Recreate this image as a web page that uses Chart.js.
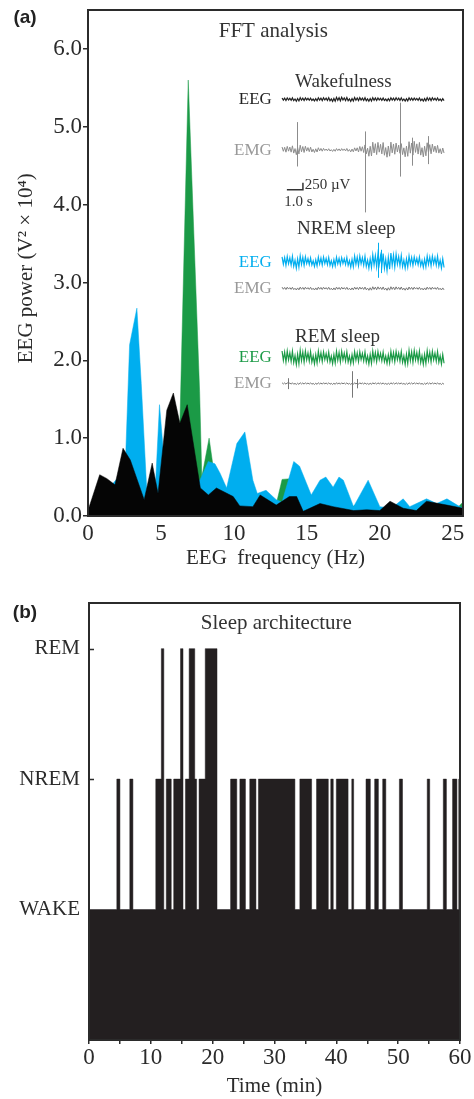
<!DOCTYPE html>
<html>
<head>
<meta charset="utf-8">
<script src="https://cdn.jsdelivr.net/npm/chart.js@4.4.1/dist/chart.umd.min.js"></script>
<style>
  html, body { margin: 0; padding: 0; background: #fff; }
  #wrap { position: relative; width: 474px; height: 1099px; }
  canvas { position: absolute; left: 0; }
  #fft { top: 0; }
  #hyp { top: 590px; }
</style>
</head>
<body>
<div id="wrap">
  <canvas id="fft" width="474" height="590"></canvas>
  <canvas id="hyp" width="474" height="509"></canvas>
</div>
<script>
// ---------- (a) FFT power spectra ----------
const wakeHz  = [0, 0.8, 1.3, 1.85, 2.4, 2.9, 3.85, 4.4, 4.8, 5.4, 5.85, 6.3, 6.8, 7.7, 8.25, 8.8, 9.95, 10.4, 11.3, 11.8, 12.9, 13.8, 14.3, 14.75, 15.9, 16.8, 18.2, 19.1, 20.0, 20.7, 21.6, 22.5, 23.2, 24.6, 25.7];
const wakePow = [0.07, 0.53, 0.48, 0.40, 0.87, 0.72, 0.21, 0.68, 0.29, 1.36, 1.58, 1.19, 1.43, 0.36, 0.27, 0.36, 0.25, 0.13, 0.12, 0.27, 0.14, 0.25, 0.25, 0.06, 0.16, 0.12, 0.07, 0.08, 0.07, 0.19, 0.10, 0.07, 0.19, 0.14, 0.10];

const nremHz  = [0, 2.55, 2.85, 3.35, 3.65, 4.05, 4.6, 4.9, 5.35, 7.67, 8.24, 8.7, 9.05, 9.5, 10.2, 10.75, 11.3, 11.6, 12.2, 12.9, 13.3, 14.1, 14.5, 15.3, 15.9, 16.3, 16.8, 17.2, 17.5, 18.2, 19.2, 20.0, 20.8, 21.6, 22.05, 23.2, 23.9, 24.6, 25.3, 25.7];
const nremPow = [0.05, 0.6, 2.2, 2.67, 1.7, 0.25, 0.3, 1.43, 0.4, 0.46, 0.70, 0.67, 0.55, 0.36, 0.93, 1.08, 0.46, 0.29, 0.33, 0.21, 0.18, 0.70, 0.64, 0.27, 0.46, 0.50, 0.37, 0.50, 0.46, 0.12, 0.46, 0.12, 0.10, 0.22, 0.12, 0.22, 0.16, 0.22, 0.14, 0.10];

const remHz  = [0, 5.2, 6.1, 6.3, 6.87, 7.65, 7.8, 8.3, 8.6, 9.0, 12.9, 13.3, 13.9, 14.1, 18.0, 18.4, 18.7, 25.3, 25.7];
const remPow = [0.05, 0.05, 1.0, 1.2, 5.6, 1.6, 0.5, 1.0, 0.6, 0.3, 0.15, 0.47, 0.48, 0.2, 0.1, 0.15, 0.08, 0.1, 0.18];

const freqTicks  = [0, 5, 10, 15, 20, 25];
const powerTicks = [0, 1, 2, 3, 4, 5, 6];

// inset example traces: envelope amplitude along each trace (power-axis units)
const wakeEegEnv = [0.02, 0.025, 0.02, 0.025, 0.03, 0.025, 0.025, 0.02, 0.025, 0.02, 0.025, 0.02];
const wakeEmgEnv = [0.04, 0.07, 0.04, 0.02, 0.02, 0.03, 0.10, 0.11, 0.09, 0.12, 0.09, 0.05];
const nremEegEnv = [0.07, 0.09, 0.06, 0.07, 0.06, 0.08, 0.09, 0.13, 0.10, 0.07, 0.08, 0.09];
const nremEmgEnv = [0.02, 0.02, 0.02, 0.02, 0.02, 0.02, 0.025, 0.025, 0.025, 0.02, 0.02, 0.02];
const remEegEnv  = [0.09, 0.1, 0.09, 0.08, 0.09, 0.08, 0.09, 0.08, 0.09, 0.1, 0.09, 0.09];
const remEmgEnv  = [0.012, 0.012, 0.012, 0.012, 0.012, 0.012, 0.012, 0.012, 0.012, 0.012, 0.012, 0.012];
// big artefact spikes on the traces: position (Hz), top and bottom (power units)
const wakeSpikeHz  = [14.3, 18.97, 21.4, 22.2, 23.3];
const wakeSpikeTop = [5.06, 4.94, 5.31, 4.86, 4.88];
const wakeSpikeBot = [4.49, 3.90, 4.36, 4.50, 4.52];
const nremSpikeHz  = [19.9, 20.1];
const nremSpikeTop = [3.51, 3.42];
const nremSpikeBot = [3.06, 3.12];
const remSpikeHz   = [13.7, 18.1, 18.45];
const remSpikeTop  = [1.77, 1.86, 1.76];
const remSpikeBot  = [1.63, 1.52, 1.64];

// ---------- (b) hypnogram ----------
const stageNames = ['WAKE', 'NREM', 'REM'];
const boutStart = [0, 4.5, 5.0, 6.6, 7.1, 10.8, 11.7, 12.1, 12.5, 13.3, 13.7, 14.8, 15.2, 15.6, 16.2, 17.1, 17.4, 17.8, 18.8, 20.7,
                   22.9, 23.9, 24.4, 25.3, 26.0, 27.0, 27.4, 33.3, 34.1, 36.0, 36.8, 38.7, 39.1, 39.5, 40.0, 41.9, 42.5, 42.8,
                   44.8, 45.5, 46.2, 46.8, 47.5, 48.0, 50.2, 50.7, 54.7, 55.1, 57.3, 57.8, 58.8, 59.5, 59.8];
const boutStage = ['WAKE', 'NREM', 'WAKE', 'NREM', 'WAKE', 'NREM', 'REM', 'WAKE', 'NREM', 'WAKE', 'NREM', 'REM', 'WAKE', 'NREM', 'REM', 'NREM', 'WAKE', 'NREM', 'REM', 'WAKE',
                   'NREM', 'WAKE', 'NREM', 'WAKE', 'NREM', 'WAKE', 'NREM', 'WAKE', 'NREM', 'WAKE', 'NREM', 'WAKE', 'NREM', 'WAKE', 'NREM', 'WAKE', 'NREM', 'WAKE',
                   'NREM', 'WAKE', 'NREM', 'WAKE', 'NREM', 'WAKE', 'NREM', 'WAKE', 'NREM', 'WAKE', 'NREM', 'WAKE', 'NREM', 'WAKE', 'NREM'];
const recordEnd = 60;
const timeTicks = [0, 5, 10, 15, 20, 25, 30, 35, 40, 45, 50, 55, 60];

// ---------- shared look ----------
const SERIF = "'Liberation Serif', 'Times New Roman', serif";
const INK = '#2b2b2b';
Chart.defaults.font.family = SERIF;
Chart.defaults.color = INK;
Chart.defaults.animation = false;

const jitter = [1, 0.35, 0.8, 0.55, 0.95, 0.25, 0.7, 0.45, 0.9, 0.6, 0.3, 0.85, 0.5, 0.75];

function fixTicks(values) {
    return axis => { axis.ticks = values.map(v => ({ value: v })); };
}

// fixed axis box; drop the label overhang so the plot area stays where the figure has it
function fixSize(size) {
    return s => {
        if (s.isHorizontal()) s.height = size; else s.width = size;
        s.paddingTop = s.paddingBottom = s.paddingLeft = s.paddingRight = 0;
    };
}

// box around the plotting area
const frame = {
    id: 'frame',
    afterDatasetsDraw(chart) {
        const { ctx, chartArea: a } = chart;
        ctx.save();
        ctx.strokeStyle = INK;
        ctx.lineWidth = 2;
        ctx.strokeRect(a.left, a.top, a.right - a.left, a.bottom - a.top);
        ctx.restore();
    }
};

function text(ctx, str, x, y, size, color, align, weight) {
    ctx.font = (weight || '') + ' ' + size + 'px ' + (weight ? "'Liberation Sans', Arial, sans-serif" : SERIF);
    ctx.fillStyle = color;
    ctx.textAlign = align || 'center';
    ctx.textBaseline = 'middle';
    ctx.fillText(str, x, y);
}

// zig-zag trace whose height follows the envelope
function trace(chart, fromHz, toHz, center, env, color, lw) {
    const { ctx, scales: { x, y } } = chart;
    const x0 = x.getPixelForValue(fromHz), x1 = x.getPixelForValue(toHz);
    const yc = y.getPixelForValue(center);
    const unit = y.getPixelForValue(0) - y.getPixelForValue(1);
    const n = Math.round((x1 - x0) / 1.3);
    ctx.beginPath();
    for (let i = 0; i <= n; i++) {
        const p = i / n * (env.length - 1);
        const k = Math.floor(p), fr = p - k;
        const a = env[k] + (env[Math.min(k + 1, env.length - 1)] - env[k]) * fr;
        const px = x0 + (x1 - x0) * i / n;
        const py = yc + (i % 2 ? 1 : -1) * a * unit * jitter[i % jitter.length];
        if (i) ctx.lineTo(px, py); else ctx.moveTo(px, py);
    }
    ctx.strokeStyle = color;
    ctx.lineWidth = lw;
    ctx.stroke();
}

function spikes(chart, hz, top, bot, color) {
    const { ctx, scales: { x, y } } = chart;
    ctx.beginPath();
    hz.forEach((h, i) => {
        const px = Math.round(x.getPixelForValue(h)) + 0.5;
        ctx.moveTo(px, y.getPixelForValue(top[i]));
        ctx.lineTo(px, y.getPixelForValue(bot[i]));
    });
    ctx.strokeStyle = color;
    ctx.lineWidth = 1;
    ctx.stroke();
}

const fftInset = {
    id: 'fftInset',
    afterDatasetsDraw(chart) {
        const { ctx, scales: { x, y } } = chart;
        const X = v => x.getPixelForValue(v), Y = v => y.getPixelForValue(v);
        ctx.save();
        text(ctx, '(a)', 25, 18, 19, '#222', 'center', 'bold');
        text(ctx, 'FFT analysis', X(12.7), Y(6.22), 21, '#333');

        const from = 13.3, to = 24.4, labelAt = 12.6;
        const GREY = '#8c8c8c';
        text(ctx, 'Wakefulness', X(17.5), Y(5.57), 19, '#333');
        text(ctx, 'EEG', X(labelAt), Y(5.35), 17, '#222', 'right');
        text(ctx, 'EMG', X(labelAt), Y(4.70), 17, '#999', 'right');
        trace(chart, from, to, 5.35, wakeEegEnv, '#222', 1.2);
        trace(chart, from, to, 4.70, wakeEmgEnv, GREY, 1);
        spikes(chart, wakeSpikeHz, wakeSpikeTop, wakeSpikeBot, GREY);

        // scale bar
        ctx.beginPath();
        ctx.moveTo(X(13.63), Y(4.19));
        ctx.lineTo(X(14.73), Y(4.19));
        ctx.lineTo(X(14.73), Y(4.28));
        ctx.strokeStyle = '#333';
        ctx.lineWidth = 1.5;
        ctx.stroke();
        text(ctx, '250 µV', X(14.85), Y(4.25), 15, '#333', 'left');
        text(ctx, '1.0 s', X(13.45), Y(4.03), 15, '#333', 'left');

        text(ctx, 'NREM sleep', X(17.7), Y(3.69), 19, '#333');
        text(ctx, 'EEG', X(labelAt), Y(3.26), 17, '#00aeef', 'right');
        text(ctx, 'EMG', X(labelAt), Y(2.92), 17, '#999', 'right');
        trace(chart, from, to, 3.26, nremEegEnv, '#00aeef', 1.2);
        spikes(chart, nremSpikeHz, nremSpikeTop, nremSpikeBot, '#00aeef');
        trace(chart, from, to, 2.92, nremEmgEnv, '#777', 1);

        text(ctx, 'REM sleep', X(17.1), Y(2.30), 19, '#333');
        text(ctx, 'EEG', X(labelAt), Y(2.03), 17, '#1b9a46', 'right');
        text(ctx, 'EMG', X(labelAt), Y(1.70), 17, '#999', 'right');
        trace(chart, from, to, 2.03, remEegEnv, '#1b9a46', 1.2);
        trace(chart, from, to, 1.70, remEmgEnv, '#777', 1);
        spikes(chart, remSpikeHz, remSpikeTop, remSpikeBot, '#777');
        ctx.restore();
    }
};

function spectrum(label, hz, pow, color) {
    return {
        label,
        data: hz.map((f, i) => ({ x: f, y: pow[i] })),
        fill: 'origin',
        backgroundColor: color,
        borderColor: color,
        borderWidth: 0.5,
        pointRadius: 0,
        tension: 0
    };
}

new Chart(document.getElementById('fft'), {
    type: 'line',
    data: {
        datasets: [
            spectrum('Wakefulness', wakeHz, wakePow, '#050505'),
            spectrum('NREM sleep', nremHz, nremPow, '#00aeef'),
            spectrum('REM sleep', remHz, remPow, '#1b9a46')
        ]
    },
    options: {
        responsive: false,
        layout: { padding: { left: 0, right: 11, top: 10, bottom: 0 } },
        plugins: { legend: { display: false }, tooltip: { enabled: false } },
        scales: {
            x: {
                type: 'linear', min: 0, max: 25.7,
                afterBuildTicks: fixTicks(freqTicks),
                afterFit: fixSize(74),
                ticks: { font: { size: 23 }, padding: 4, maxRotation: 0, autoSkip: false, callback: v => String(v) },
                grid: { drawOnChartArea: false, drawTicks: false },
                border: { display: false },
                title: { display: true, text: 'EEG  frequency (Hz)', font: { size: 21 }, padding: { top: 0, bottom: 19 } }
            },
            y: {
                type: 'linear', min: 0, max: 6.5,
                afterBuildTicks: fixTicks(powerTicks),
                afterFit: fixSize(88),
                ticks: { font: { size: 23 }, padding: 1, callback: v => v.toFixed(1) },
                grid: { drawOnChartArea: false, tickLength: 5, color: INK, lineWidth: 1.5 },
                border: { display: false },
                title: { display: true, text: 'EEG power (V² × 10⁴)  ', font: { size: 21 }, padding: { top: 14, bottom: 0 } }
            }
        }
    },
    plugins: [frame, fftInset]
});

// ---------- (b) ----------
const hypnoPoints = boutStart.map((t, i) => ({ x: t, y: stageNames.indexOf(boutStage[i]) + 1 }));
hypnoPoints.push({ x: recordEnd, y: hypnoPoints[hypnoPoints.length - 1].y });

const hypnoDeco = {
    id: 'hypnoDeco',
    afterDatasetsDraw(chart) {
        const { ctx, chartArea: a, scales: { x, y } } = chart;
        ctx.save();
        text(ctx, '(b)', 25, 23, 19, '#222', 'center', 'bold');
        text(ctx, 'Sleep architecture', x.getPixelForValue(30.3), 33, 21, '#333');
        // inward ticks on the stage axis
        ctx.beginPath();
        [2, 3].forEach(v => {
            const py = Math.round(y.getPixelForValue(v)) + 0.5;
            ctx.moveTo(a.left, py);
            ctx.lineTo(a.left + 5, py);
        });
        ctx.strokeStyle = INK;
        ctx.lineWidth = 1.5;
        ctx.stroke();
        ctx.restore();
    }
};

new Chart(document.getElementById('hyp'), {
    type: 'line',
    data: {
        datasets: [{
            label: 'Stage',
            data: hypnoPoints,
            stepped: true,
            fill: 'origin',
            backgroundColor: '#231f20',
            borderColor: '#231f20',
            borderWidth: 0.5,
            pointRadius: 0
        }]
    },
    options: {
        responsive: false,
        layout: { padding: { left: 0, right: 14, top: 13, bottom: 0 } },
        plugins: { legend: { display: false }, tooltip: { enabled: false } },
        scales: {
            x: {
                type: 'linear', min: 0, max: recordEnd,
                afterBuildTicks: fixTicks(timeTicks),
                afterFit: fixSize(59),
                ticks: { font: { size: 23 }, padding: 0, maxRotation: 0, autoSkip: false,
                         callback: v => (v % 10 === 0 ? String(v) : '') },
                grid: { drawOnChartArea: false, tickLength: 4, color: INK, lineWidth: 1.5 },
                border: { display: false },
                title: { display: true, text: 'Time (min)', font: { size: 21 }, padding: { top: 0, bottom: 0 } }
            },
            y: {
                type: 'linear', min: 0, max: 3.35,
                afterBuildTicks: fixTicks([1, 2, 3]),
                afterFit: fixSize(89),
                ticks: { font: { size: 21 }, padding: 9, callback: v => stageNames[v - 1] },
                grid: { drawOnChartArea: false, drawTicks: false },
                border: { display: false }
            }
        }
    },
    plugins: [frame, hypnoDeco]
});
</script>
</body>
</html>
